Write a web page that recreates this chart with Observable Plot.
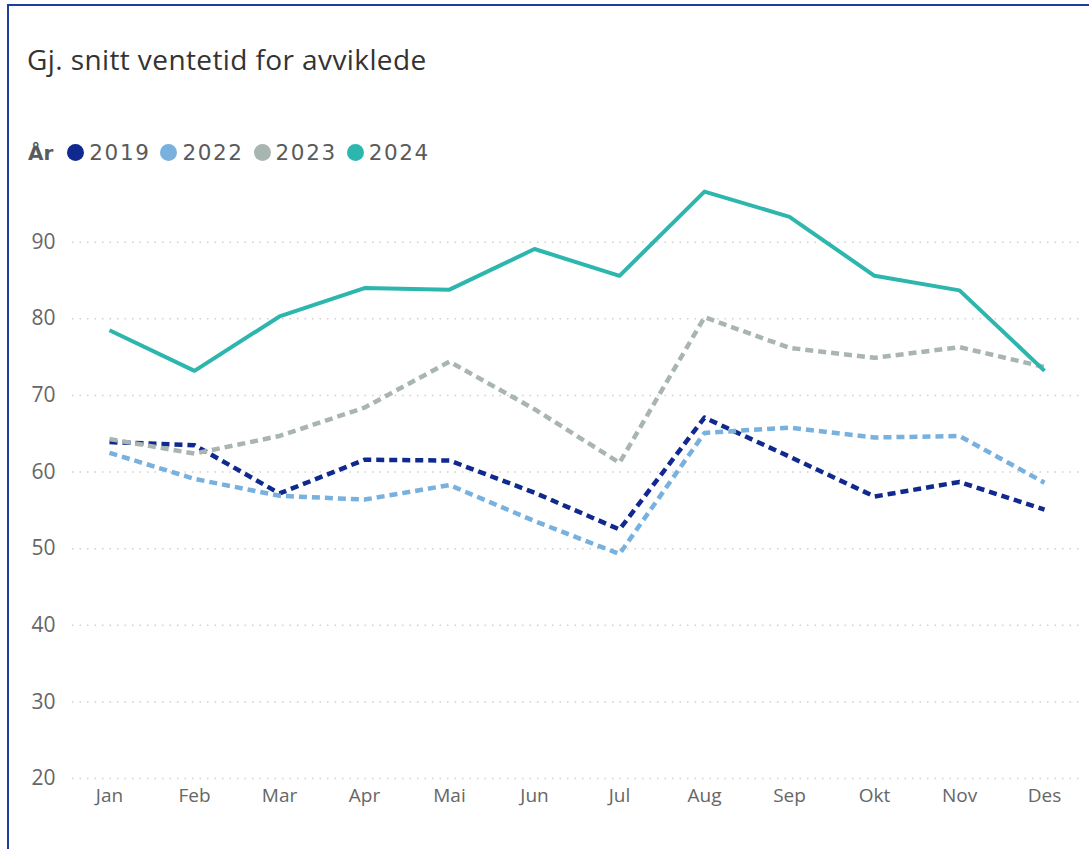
<!DOCTYPE html>
<html>
<head>
<meta charset="utf-8">
<script src="https://cdn.jsdelivr.net/npm/d3@7"></script>
<script src="https://cdn.jsdelivr.net/npm/@observablehq/plot@0.6"></script>
<style>
  html, body { margin: 0; padding: 0; background: #fff; }
  #frame { position: absolute; left: 0; top: 0; width: 1089px; height: 849px; overflow: hidden; }
  #border { position: absolute; left: 7px; top: 4px; width: 1100px; height: 900px; border-left: 2px solid #1f3d99; border-top: 2px solid #1f3d99; box-sizing: border-box; }
  #title { position: absolute; left: 27px; top: 40px; font-family: "Open Sans", sans-serif; font-size: 28px; letter-spacing: 0.4px; color: #333; white-space: nowrap; line-height: normal; }
  #legend { position: absolute; left: 28px; top: 140px; display: flex; align-items: center; font-family: "DejaVu Sans", sans-serif; font-size: 21px; color: #5a5a5a; white-space: nowrap; }
  #legend .lab { font-weight: bold; margin-right: 14px; letter-spacing: 0; font-size: 20px; }
  #legend .item { display: flex; align-items: center; margin-right: 10px; }
  #legend .dot { width: 17px; height: 17px; border-radius: 50%; margin-right: 5px; }
  #legend .txt { letter-spacing: 1.6px; font-size: 21.5px; }
  #chart { position: absolute; left: 0; top: 165px; }
</style>
</head>
<body>
<div id="frame">
  <div id="border"></div>
  <div id="title">Gj. snitt ventetid for avviklede</div>
  <div id="legend"></div>
  <div id="chart"></div>
</div>
<script>
const months = ["Jan","Feb","Mar","Apr","Mai","Jun","Jul","Aug","Sep","Okt","Nov","Des"];
const years = ["2019","2022","2023","2024"];
const v2019 = [63.9, 63.5, 57.2, 61.6, 61.5, 57.3, 52.5, 67.1, 62.0, 56.8, 58.7, 55.1];
const v2022 = [62.5, 59.1, 56.9, 56.4, 58.3, 53.6, 49.3, 65.1, 65.8, 64.5, 64.7, 58.6];
const v2023 = [64.3, 62.4, 64.7, 68.4, 74.4, 68.2, 61.2, 80.2, 76.2, 74.9, 76.3, 73.7];
const v2024 = [78.5, 73.2, 80.3, 84.0, 83.8, 89.1, 85.6, 96.6, 93.3, 85.6, 83.7, 73.2];
const yTicks = [20, 30, 40, 50, 60, 70, 80, 90];
const colors = ["#10298f", "#78b0de", "#a9b5b1", "#2db6ae"];
const dashed = [true, true, true, false];

const seriesValues = [v2019, v2022, v2023, v2024];
const series = years.map((yr, i) => months.map((m, j) => ({month: m, value: seriesValues[i][j], year: yr})));

// legend
const legend = document.getElementById("legend");
legend.innerHTML = `<span class="lab">År</span>` + years.map((yr, i) =>
  `<span class="item"><span class="dot" style="background:${colors[i]}"></span><span class="txt">${yr}</span></span>`).join("");

const lineMarks = series.map((data, i) => Plot.line(data, {
  x: "month", y: "value",
  stroke: colors[i],
  strokeWidth: dashed[i] ? 4.5 : 4,
  strokeDasharray: dashed[i] ? "8,5" : null,
  strokeLinejoin: "round",
  strokeLinecap: "butt"
}));

const chart = Plot.plot({
  width: 1089,
  height: 653,
  marginTop: 0,
  marginBottom: 40,
  marginLeft: 72,
  marginRight: 9,
  style: { fontFamily: "Open Sans, sans-serif", background: "transparent", overflow: "visible" },
  x: { type: "point", domain: months, padding: 0.423, label: null },
  y: { domain: [20, 100], label: null },
  marks: [
    Plot.ruleY(yTicks, { stroke: "#d0d0d0", strokeWidth: 1.5, strokeDasharray: "1.5,6" }),
    Plot.axisY({ ticks: yTicks, tickSize: 0, tickPadding: 17, fontSize: 21, fill: "#666", label: null }),
    Plot.axisX({ tickSize: 0, tickPadding: 10, fontSize: 19, fill: "#666", label: null }),
    ...lineMarks
  ]
});
document.getElementById("chart").appendChild(chart);
</script>
</body>
</html>
